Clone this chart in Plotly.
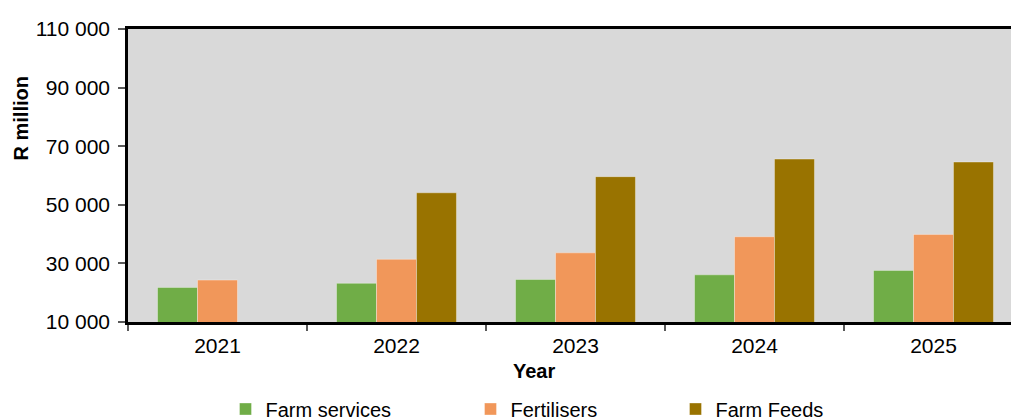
import plotly.graph_objects as go

years = ["2021", "2022", "2023", "2024", "2025"]
farm_services = [21800, 23200, 24500, 26100, 27600]
fertilisers = [24300, 31400, 33600, 39100, 39900]
farm_feeds = [9400, 54100, 59600, 65600, 64600]

series_names = ["Farm services", "Fertilisers", "Farm Feeds"]
series_colors = ["#70AD47", "#F1975A", "#997300"]

y_ticks = [10000, 30000, 50000, 70000, 90000, 110000]
y_tick_labels = ["10 000", "30 000", "50 000", "70 000", "90 000", "110 000"]

FONT = "'Liberation Sans', Arial, sans-serif"
FS_TICK = 21
FS = 20

W, H = 1011, 417
L, T, B, R = 128, 29, 95, 0
plot_w = W - L - R
plot_h = H - T - B

fig = go.Figure()
legend_ids = ["legend", "legend2", "legend3"]
legend_text_x = [262, 507, 712]
for name, vals, col, lid in zip(series_names, [farm_services, fertilisers, farm_feeds], series_colors, legend_ids):
    fig.add_trace(go.Bar(
        x=years, y=vals, name=name,
        marker=dict(color=col, line=dict(color="rgba(255,255,255,0.35)", width=1)),
        legend=lid,
    ))

legend_common = dict(orientation="h", bgcolor="rgba(0,0,0,0)", font=dict(family=FONT, size=FS, color="black"),
                     xref="container", yref="container", xanchor="left", yanchor="middle")
layout_legends = {}
for lid, tx in zip(legend_ids, legend_text_x):
    layout_legends[lid] = dict(legend_common, x=(tx - 36.5) / W, y=1 - 409 / H)

fig.update_layout(
    width=W, height=H,
    margin=dict(l=L, r=R, t=T, b=B, pad=0, autoexpand=False),
    paper_bgcolor="white",
    plot_bgcolor="#D9D9D9",
    barmode="group",
    bargap=0.33,
    bargroupgap=0,
    font=dict(family=FONT, size=FS, color="black"),
    showlegend=True,
    **layout_legends,
)

fig.update_xaxes(
    type="category",
    range=[-0.5, 4.433],
    automargin=False,
    showgrid=False,
    showline=True, linecolor="black", linewidth=2.5, mirror=True,
    ticks="outside", tickson="boundaries", ticklen=6, tickwidth=1.5, tickcolor="#595959",
    tickfont=dict(family=FONT, size=FS_TICK, color="black"),
    ticklabelstandoff=3,
)
fig.update_yaxes(
    range=[10000, 110000],
    automargin=False,
    showgrid=False, zeroline=False,
    showline=True, linecolor="black", linewidth=2.5, mirror=False,
    ticks="outside", ticklen=7, tickwidth=1.5, tickcolor="#595959",
    tickvals=y_ticks, ticktext=y_tick_labels,
    tickfont=dict(family=FONT, size=FS_TICK, color="black"),
    ticklabelstandoff=4,
)

fig.add_annotation(
    text="<b>R million</b>", textangle=-90,
    xref="paper", yref="paper",
    x=(20 - L) / plot_w, y=(T + plot_h - 118.5) / plot_h,
    xanchor="center", yanchor="middle", showarrow=False,
    font=dict(family=FONT, size=FS, color="black"),
)
fig.add_annotation(
    text="<b>Year</b>",
    xref="paper", yref="paper",
    x=(533.5 - L) / plot_w, y=(T + plot_h - 371) / plot_h,
    xanchor="center", yanchor="middle", showarrow=False,
    font=dict(family=FONT, size=FS, color="black"),
)

fig.write_html(
    "out.html",
    config={"displayModeBar": False},
    post_script="document.body.style.margin='0';document.body.style.padding='0';",
)
